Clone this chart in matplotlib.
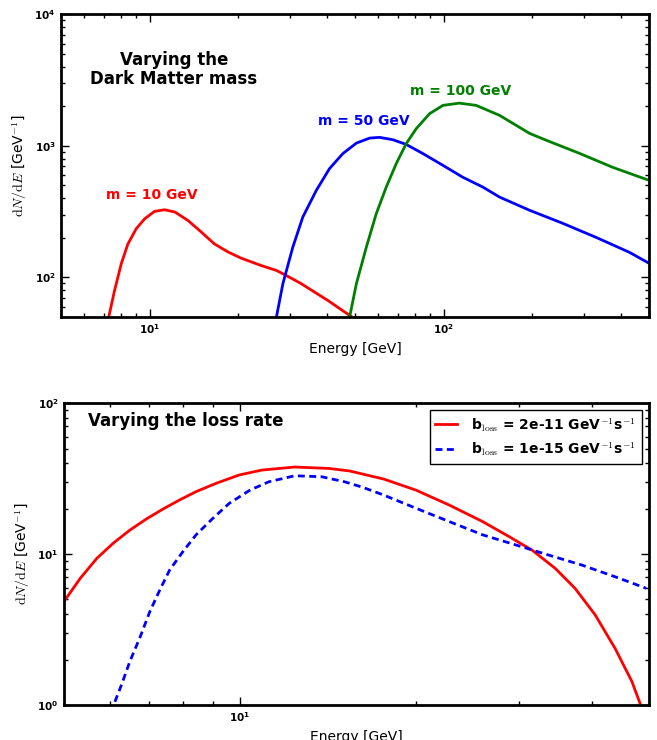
import matplotlib
matplotlib.use('Agg')
import matplotlib.pyplot as plt
import numpy as np
from matplotlib.ticker import NullFormatter

plt.rcParams['mathtext.fontset'] = 'cm'
plt.rcParams['lines.scale_dashes'] = False

# top panel: spectra for three DM masses
e_m10 = [7.26, 7.60, 8.01, 8.44, 9.01, 9.62, 10.4, 11.25, 12.2, 13.5, 15.0, 16.6, 18.5,
         20.5, 24.0, 27.0, 29.5, 32.8, 36.4, 40.4, 44.9, 48.5]
n_m10 = [49.9, 79.6, 127, 180, 235, 279, 318, 327, 314, 271, 221, 180, 156,
         140, 123, 113, 102, 89.6, 77.3, 66.8, 56.8, 50.5]

e_m50 = [27.0, 28.4, 30.7, 33.2, 36.9, 40.9, 45.4, 50.5, 56.0, 60.5, 67.2, 74.6, 85.1,
         99.5, 116, 136, 155, 196, 254, 331, 429, 500]
n_m50 = [50, 89.6, 170, 288, 459, 671, 873, 1050, 1146, 1161, 1114, 1026, 873,
         711, 579, 486, 408, 324, 258, 201, 155, 128]

e_m100 = [47.9, 50.5, 54.6, 59.0, 63.8, 69.0, 74.6, 80.7, 89.6, 99.5, 113, 129, 155,
          196, 224, 290, 376, 500]
n_m100 = [50, 89.6, 170, 305, 486, 733, 1040, 1352, 1758, 2033, 2114, 2033, 1706,
          1245, 1101, 877, 687, 547]

# bottom panel: two energy loss rates
e_b2e11 = [5.02, 5.33, 5.69, 6.07, 6.48, 6.92, 7.39, 7.88, 8.41, 9.10, 9.97, 10.9, 12.4,
           14.2, 15.4, 17.6, 20.0, 22.8, 26.0, 28.9, 31.6, 34.6, 37.4, 40.5, 43.8,
           46.8, 48.3]
n_b2e11 = [4.96, 6.90, 9.36, 11.8, 14.4, 17.1, 19.9, 22.8, 25.9, 29.4, 33.4, 36.0, 37.7,
           36.9, 35.5, 31.4, 26.5, 21.1, 16.4, 13.0, 10.6, 8.04, 5.93, 3.95, 2.37,
           1.43, 1.03]

e_b1e15 = [6.11, 6.27, 6.48, 6.75, 7.01, 7.29, 7.58, 7.99, 8.41, 8.98, 9.59, 10.4, 11.2,
           12.4, 13.8, 15.1, 16.2, 17.6, 20.0, 22.8, 26.0, 29.6, 33.7, 38.4, 43.8, 49.5]
n_b1e15 = [1.05, 1.36, 1.94, 2.83, 4.15, 5.77, 7.84, 10.4, 13.4, 17.2, 21.7, 26.5, 30.1,
           33.0, 32.5, 30.1, 27.7, 24.6, 20.1, 16.4, 13.4, 11.5, 9.85, 8.46, 7.07, 5.93]

top_xticks = [10, 100]
top_yticks = [100, 1000, 10000]
bot_xticks = [10]
bot_yticks = [1, 10, 100]


def pow_labels(ticks):
    return [r'$\mathdefault{10^{%d}}$' % round(np.log10(t)) for t in ticks]


def style_axis(ax, xlim, ylim, xticks, yticks):
    ax.set_xscale('log')
    ax.set_yscale('log')
    ax.set_xlim(*xlim)
    ax.set_ylim(*ylim)
    ax.set_xticks(xticks, pow_labels(xticks), fontweight='bold', fontsize=7.5)
    ax.set_yticks(yticks, pow_labels(yticks), fontweight='bold', fontsize=7.5)
    ax.xaxis.set_minor_formatter(NullFormatter())
    ax.yaxis.set_minor_formatter(NullFormatter())
    ax.tick_params(which='both', direction='in', top=True, right=True, pad=4)
    ax.tick_params(which='major', length=6, width=1)
    ax.tick_params(which='minor', length=3, width=1)
    for spine in ax.spines.values():
        spine.set_linewidth(2)
    ax.set_xlabel('Energy [GeV]', fontsize=10)
    ax.set_ylabel(r'$\mathrm{d}N/\mathrm{d}E$ [GeV$^{-1}$]', fontsize=10)


fig = plt.figure(figsize=(6.57, 7.40), dpi=100)

ax1 = fig.add_axes([0.093, 0.5716, 0.895, 0.409])
ax1.plot(e_m10, n_m10, color='r', lw=2)
ax1.plot(e_m50, n_m50, color='b', lw=2)
ax1.plot(e_m100, n_m100, color='g', lw=2)
style_axis(ax1, (5, 500), (50, 1e4), top_xticks, top_yticks)
ax1.text(0.192, 0.818, 'Varying the\nDark Matter mass', transform=ax1.transAxes,
         ha='center', va='center', fontsize=12, fontweight='bold', linespacing=1.05)
ax1.text(0.077, 0.403, 'm = 10 GeV', transform=ax1.transAxes, color='r',
         va='center', fontsize=10, fontweight='bold')
ax1.text(0.437, 0.647, 'm = 50 GeV', transform=ax1.transAxes, color='b',
         va='center', fontsize=10, fontweight='bold')
ax1.text(0.594, 0.746, 'm = 100 GeV', transform=ax1.transAxes, color='g',
         va='center', fontsize=10, fontweight='bold')

ax2 = fig.add_axes([0.0974, 0.0473, 0.890, 0.408])
ax2.plot(e_b2e11, n_b2e11, color='r', lw=2,
         label=r'b$_{\rm loss}$ = 2e-11 GeV$^{-1}$s$^{-1}$')
ax2.plot(e_b1e15, n_b1e15, color='b', lw=2, ls='--', dashes=(5, 3.2),
         label=r'b$_{\rm loss}$ = 1e-15 GeV$^{-1}$s$^{-1}$')
style_axis(ax2, (5, 50), (1, 100), bot_xticks, bot_yticks)
ax2.text(0.041, 0.94, 'Varying the loss rate', transform=ax2.transAxes,
         va='center', fontsize=12, fontweight='bold')
leg = ax2.legend(loc='upper right', prop={'weight': 'bold', 'size': 10},
                 fancybox=False, edgecolor='black', framealpha=1,
                 handlelength=1.6, handletextpad=1.0, borderaxespad=0.5)
leg.get_frame().set_linewidth(1.0)

fig.savefig('out.png', dpi=100)
plt.close(fig)
